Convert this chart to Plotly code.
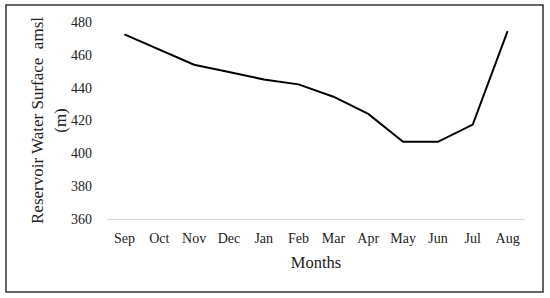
import plotly.graph_objects as go

months = ["Sep", "Oct", "Nov", "Dec", "Jan", "Feb", "Mar", "Apr", "May", "Jun", "Jul", "Aug"]
water_level = [472.5, 463.5, 454, 449.5, 445, 442, 434.5, 424, 407, 407, 417.5, 474.5]
y_ticks = [360, 380, 400, 420, 440, 460, 480]

FONT = "Liberation Serif"

fig = go.Figure()
fig.add_trace(go.Scatter(x=months, y=water_level, mode="lines",
                         line=dict(color="black", width=2), showlegend=False))

L, R, T, B = 107, 25, 22, 79
W, H = 550, 298
pw, ph = W - L - R, H - T - B

fig.update_layout(
    width=W, height=H,
    margin=dict(l=L, r=R, t=T, b=B, autoexpand=False),
    paper_bgcolor="white", plot_bgcolor="white",
    font=dict(family=FONT, size=14, color="#222"),
    xaxis=dict(showgrid=False, showline=True, linecolor="#d9d9d9", linewidth=1,
               range=[-0.5, len(months) - 0.5],
               ticks="", tickfont=dict(size=14), zeroline=False, ticklabelstandoff=6,
               title=dict(text="Months", font=dict(size=16.5), standoff=11)),
    yaxis=dict(range=[360, 480], tickvals=y_ticks, showgrid=False, showline=False,
               ticks="", zeroline=False, tickfont=dict(size=14), ticklabelstandoff=14,
               title=dict(text="Reservoir Water Surface  amsl<br>(m)", font=dict(size=17), standoff=0)),
    shapes=[dict(type="rect", xref="paper", yref="paper",
                 x0=(6 - L) / pw, x1=(543 - L) / pw,
                 y0=(H - B - 292) / ph, y1=(H - B - 5) / ph,
                 line=dict(color="#333", width=1.5), fillcolor="rgba(0,0,0,0)")],
)

fig.write_html("out.html", config={"displayModeBar": False},
               post_script="document.body.style.margin='0';document.body.style.padding='0';")
